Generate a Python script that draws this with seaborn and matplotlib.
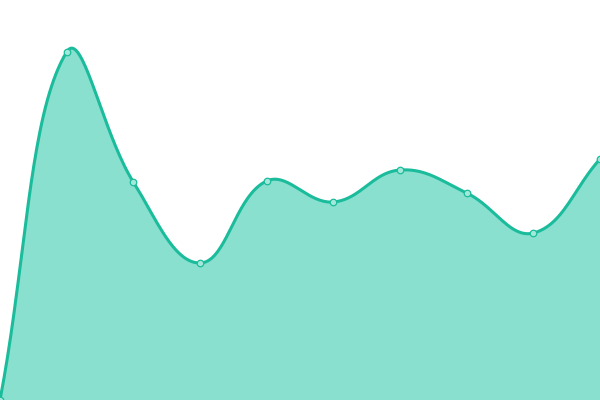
import numpy as np
import pandas as pd
import matplotlib
matplotlib.use("Agg")
import matplotlib.pyplot as plt
import seaborn as sns

# Data
categories = list(range(10))
values = [0, 348, 218, 137, 219, 198, 230, 207, 167, 241]

LINE = "#1abc9c"
FILL = "#8ae0cf"
POINT_FILL = "#a4e8da"

sns.set_style("white")

fig = plt.figure(figsize=(6, 4), dpi=100)
ax = fig.add_axes([0, 0, 1, 1])

XSTEP = 600 / (len(categories) - 1)


def spline(xs, ys, tension=0.4, n=40):
    # Chart.js-style bezier control points, computed in pixel space
    px = np.array(xs, float) * XSTEP
    py = np.array(ys, float)
    m = len(px)
    cp_prev = np.zeros((m, 2))
    cp_next = np.zeros((m, 2))
    for i in range(m):
        p0 = np.array([px[max(i - 1, 0)], py[max(i - 1, 0)]])
        p1 = np.array([px[i], py[i]])
        p2 = np.array([px[min(i + 1, m - 1)], py[min(i + 1, m - 1)]])
        d01 = np.hypot(*(p1 - p0))
        d12 = np.hypot(*(p2 - p1))
        s = d01 + d12
        fa = tension * d01 / s if s else 0
        fb = tension * d12 / s if s else 0
        cp_prev[i] = p1 - fa * (p2 - p0)
        cp_next[i] = p1 + fb * (p2 - p0)
    cp_prev[:, 1] = np.clip(cp_prev[:, 1], 0, 400)
    cp_next[:, 1] = np.clip(cp_next[:, 1], 0, 400)
    outx, outy = [], []
    t = np.linspace(0, 1, n)
    for i in range(m - 1):
        P0 = np.array([px[i], py[i]])
        P1 = cp_next[i]
        P2 = cp_prev[i + 1]
        P3 = np.array([px[i + 1], py[i + 1]])
        b = ((1 - t) ** 3)[:, None] * P0 + (3 * (1 - t) ** 2 * t)[:, None] * P1 \
            + (3 * (1 - t) * t ** 2)[:, None] * P2 + (t ** 3)[:, None] * P3
        outx.extend(b[:, 0] / XSTEP)
        outy.extend(b[:, 1])
    return np.array(outx), np.array(outy)


sx, sy = spline(categories, values)
curve = pd.DataFrame({"x": sx, "y": sy})
pts = pd.DataFrame({"x": categories, "y": values})

ax.fill_between(sx, sy, 0, color=FILL, linewidth=0, zorder=1)
sns.lineplot(data=curve, x="x", y="y", sort=False, color=LINE, linewidth=2.2,
             ax=ax, zorder=2)
sns.scatterplot(data=pts, x="x", y="y", s=22, color=POINT_FILL, edgecolor=LINE,
                linewidth=0.9, ax=ax, zorder=3, clip_on=True)

ax.set_xlim(0, 9)
ax.set_ylim(0, 400)
ax.axis("off")

fig.savefig("out.png", dpi=100)
